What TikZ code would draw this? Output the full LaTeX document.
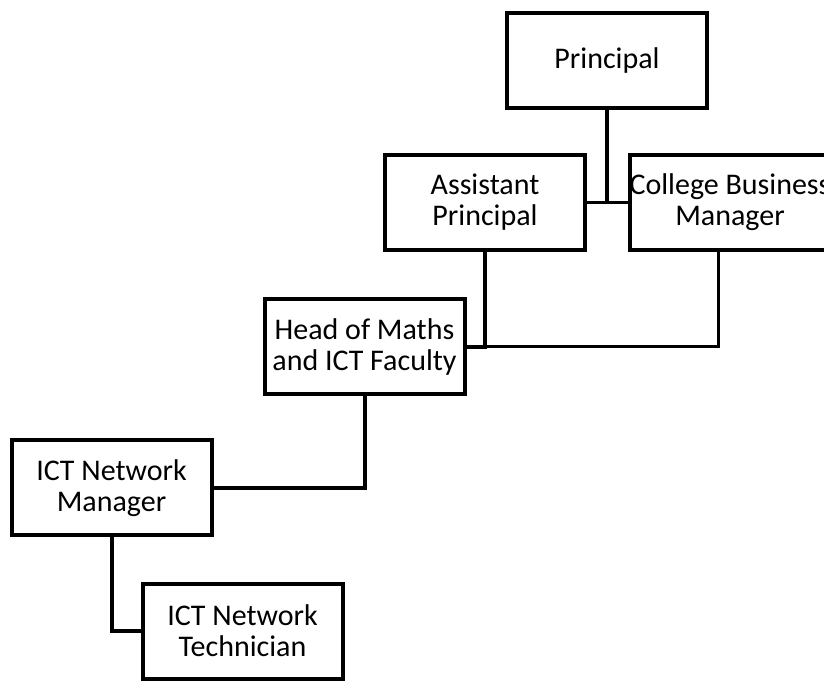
\documentclass[tikz,border=0pt]{standalone}
\usepackage{fontspec}
\setmainfont{Carlito}
\begin{document}
\begin{tikzpicture}[x=1pt,y=1pt,
  orgbox/.style={draw=black, line width=4pt, fill=white, minimum width=200pt, minimum height=95pt, align=center, inner sep=0pt, font=\fontsize{30}{31}\selectfont, text=black},
  thick link/.style={draw=black, line width=4pt},
  thin link/.style={draw=black, line width=3pt}]
\useasboundingbox (0,0) rectangle (824,680);
\clip (0,0) rectangle (824,680);
\node[orgbox] (P) at (607,619) {Principal};
\node[orgbox] (AP) at (485,477.5) {Assistant\\Principal};
\node[orgbox] (CBM) at (730,477.5) {College Business\\Manager};
\node[orgbox] (H) at (364.5,333) {Head of Maths\\and ICT Faculty};
\node[orgbox] (NM) at (111.5,192) {ICT Network\\Manager};
\node[orgbox] (T) at (242.5,49) {ICT Network\\Technician};
\coordinate (cbmdrop) at ([xshift=-12pt]CBM.south);
\draw[thin link] (AP.east) -- (CBM.west);
\draw[thick link] (P.south) -- (P.south |- AP.east);
\draw[thin link] (H.east -| AP.south) -- (H.east -| cbmdrop) -- (cbmdrop);
\draw[thick link] (AP.south) -- (AP.south |- H.east) -- (H.east);
\draw[thick link] (H.south) -- (H.south |- NM.east) -- (NM.east);
\draw[thick link] (NM.south) -- (NM.south |- T.west) -- (T.west);
\end{tikzpicture}
\end{document}
